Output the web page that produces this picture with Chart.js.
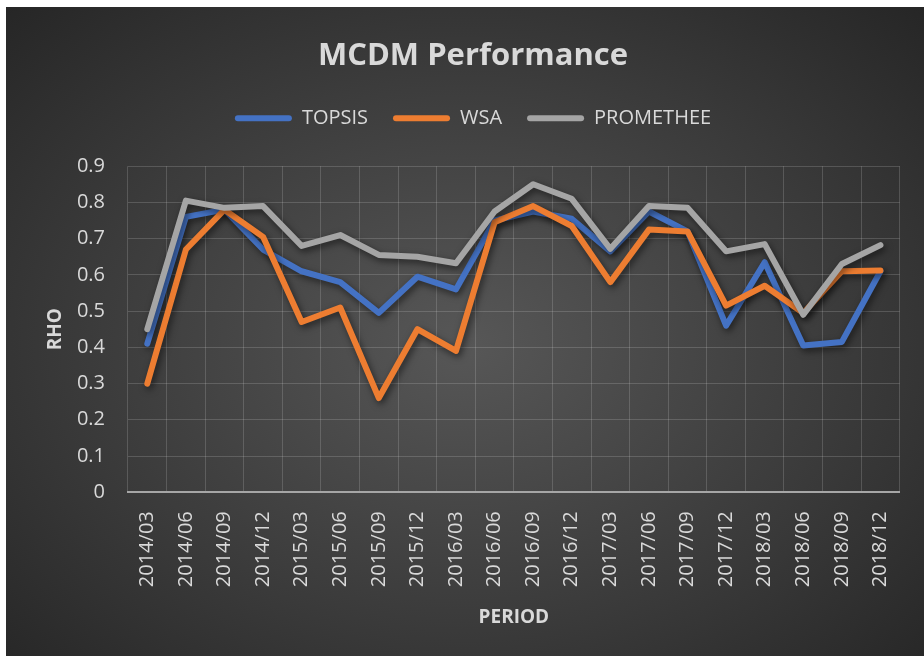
<!DOCTYPE html>
<html>
<head>
<meta charset="utf-8">
<script src="https://cdn.jsdelivr.net/npm/chart.js@4.4.0/dist/chart.umd.min.js"></script>
<style>
    body { margin: 0; background: #fff; }
    #box {
        position: absolute; left: 6px; top: 7px; width: 918px; height: 649px;
        background: radial-gradient(ellipse farthest-corner at 50% 52%, #575757 0%, #3a3a3a 60%, #262626 100%);
    }
</style>
</head>
<body>
<div id="box"><canvas id="myChart" width="918" height="649"></canvas></div>
<script>
const periods = ['2014/03', '2014/06', '2014/09', '2014/12', '2015/03', '2015/06', '2015/09', '2015/12',
    '2016/03', '2016/06', '2016/09', '2016/12', '2017/03', '2017/06', '2017/09', '2017/12',
    '2018/03', '2018/06', '2018/09', '2018/12'];
const topsis = [0.41, 0.76, 0.78, 0.67, 0.61, 0.58, 0.495, 0.595, 0.56, 0.75, 0.775, 0.755, 0.665, 0.775, 0.72, 0.46, 0.635, 0.405, 0.415, 0.61];
const wsa = [0.30, 0.67, 0.78, 0.705, 0.47, 0.51, 0.26, 0.45, 0.39, 0.745, 0.79, 0.735, 0.58, 0.725, 0.72, 0.515, 0.57, 0.495, 0.61, 0.612];
const promethee = [0.45, 0.805, 0.785, 0.79, 0.68, 0.71, 0.655, 0.65, 0.632, 0.775, 0.85, 0.81, 0.672, 0.79, 0.785, 0.665, 0.685, 0.49, 0.63, 0.682];

document.addEventListener("DOMContentLoaded", function () {

    const textColor = '#d9d9d9';
    const font = "'Open Sans', sans-serif";

    // shadow under the lines, like the excel effect
    const lineShadow = {
        id: 'lineShadow',
        beforeDatasetsDraw(chart) {
            const ctx = chart.ctx;
            ctx.save();
            ctx.shadowColor = 'rgba(0,0,0,0.55)';
            ctx.shadowBlur = 7;
            ctx.shadowOffsetX = 2;
            ctx.shadowOffsetY = 3;
        },
        afterDatasetsDraw(chart) {
            chart.ctx.restore();
        }
    };

    // more room between legend and plot
    const legendMargin = {
        id: 'legendMargin',
        beforeInit(chart) {
            const fit = chart.legend.fit;
            chart.legend.fit = function () {
                fit.bind(chart.legend)();
                this.height += 28;
            };
        }
    };

    function line(label, data, color, order) {
        return {
            label: label,
            data: data,
            borderColor: color,
            backgroundColor: color,
            borderWidth: 6,
            borderJoinStyle: 'round',
            borderCapStyle: 'round',
            pointRadius: 0,
            tension: 0,
            order: order
        };
    }

    const ctx = document.getElementById('myChart').getContext('2d');
    const chart = new Chart(ctx, {
        type: 'line',
        data: {
            labels: periods,
            datasets: [
                line('TOPSIS', topsis, '#4472c4', 3),
                line('WSA', wsa, '#ed7d31', 2),
                line('PROMETHEE', promethee, '#a5a5a5', 1)
            ]
        },
        plugins: [lineShadow, legendMargin],
        options: {
            responsive: false,
            animation: false,
            layout: { padding: { left: 38, right: 22, top: 23, bottom: 27 } },
            plugins: {
                tooltip: { enabled: false },
                title: {
                    display: true,
                    text: 'MCDM Performance',
                    color: textColor,
                    font: { family: font, size: 31, weight: 'bold' },
                    padding: { top: 8, bottom: 8 }
                },
                legend: {
                    labels: {
                        color: textColor,
                        font: { family: font, size: 20 },
                        boxWidth: 57,
                        boxHeight: 6,
                        useBorderRadius: true,
                        borderRadius: 3,
                        padding: 25,
                        sort: (a, b) => a.datasetIndex - b.datasetIndex,
                        generateLabels(c) {
                            const items = Chart.defaults.plugins.legend.labels.generateLabels(c);
                            items.forEach(it => { it.lineWidth = 0; it.strokeStyle = 'transparent'; });
                            return items;
                        }
                    }
                }
            },
            scales: {
                x: {
                    offset: true,
                    grid: { offset: true, color: 'rgba(217,217,217,0.2)', drawTicks: false },
                    border: { color: '#a6a6a6', width: 2 },
                    ticks: {
                        color: textColor,
                        font: { family: font, size: 20 },
                        maxRotation: 90,
                        minRotation: 90,
                        padding: 19
                    },
                    title: {
                        display: true,
                        text: 'PERIOD',
                        color: textColor,
                        font: { family: font, size: 19, weight: 'bold' },
                        padding: { top: 0, bottom: 0 }
                    }
                },
                y: {
                    min: 0,
                    max: 0.9,
                    grid: { color: 'rgba(217,217,217,0.2)', drawTicks: false },
                    border: { display: false },
                    afterFit: s => { s.width = 84; },
                    ticks: {
                        stepSize: 0.1,
                        color: textColor,
                        font: { family: font, size: 20 },
                        padding: 23,
                        callback: v => Math.round(v * 10) / 10
                    },
                    title: {
                        display: true,
                        text: 'RHO',
                        color: textColor,
                        font: { family: font, size: 19, weight: 'bold' },
                        padding: { top: 0, bottom: 10 }
                    }
                }
            }
        }
    });

});
</script>
</body>
</html>
